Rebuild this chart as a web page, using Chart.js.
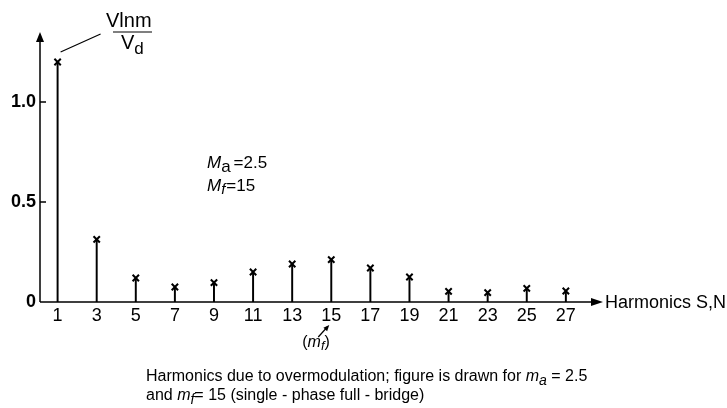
<!DOCTYPE html>
<html>
<head>
<meta charset="utf-8">
<script src="https://cdn.jsdelivr.net/npm/chart.js@4/dist/chart.umd.min.js"></script>
<style>
  html, body { margin: 0; padding: 0; background: #fff; }
  #wrap { position: relative; width: 727px; height: 408px; }
</style>
</head>
<body>
<div id="wrap"><canvas id="harmChart"></canvas></div>
<script>
// harmonic order (x) and normalised amplitude Vlnm/Vd (y)
const harmonics = [1, 3, 5, 7, 9, 11, 13, 15, 17, 19, 21, 23, 25, 27];
const amplitudes = [1.2, 0.313, 0.12, 0.075, 0.097, 0.15, 0.19, 0.212, 0.17, 0.125, 0.053, 0.047, 0.068, 0.055];
const yTickValues = [0, 0.5, 1.0];
const yTickLabels = ["0", "0.5", "1.0"];
const xAxisTitle = "Harmonics S,N";
const mfHarmonic = 15;

const FONT = '"Liberation Sans", Arial, Helvetica, sans-serif';
const points = harmonics.map((h, i) => ({ x: h, y: amplitudes[i] }));

// draw a run of text pieces, each with its own font / baseline shift
function drawRun(ctx, x, y, parts) {
  let cx = x;
  parts.forEach((p) => {
    ctx.font = p.font;
    ctx.fillText(p.t, cx, y + (p.dy || 0));
    cx += ctx.measureText(p.t).width + (p.gap || 0);
  });
  return cx;
}

function arrowHead(ctx, x, y, angle, len, half) {
  ctx.save();
  ctx.translate(x, y);
  ctx.rotate(angle);
  ctx.beginPath();
  ctx.moveTo(0, 0);
  ctx.lineTo(-len, -half);
  ctx.lineTo(-len, half);
  ctx.closePath();
  ctx.fill();
  ctx.restore();
}

const decorations = {
  id: "decorations",
  afterDraw(chart) {
    const ctx = chart.ctx;
    const xs = chart.scales.x, ys = chart.scales.y;
    const area = chart.chartArea;
    const x0 = area.left, y0 = ys.getPixelForValue(0);
    ctx.save();
    ctx.strokeStyle = "#000";
    ctx.fillStyle = "#000";
    ctx.lineWidth = 1.5;

    // axes with arrows
    ctx.beginPath();
    ctx.moveTo(x0, y0);
    ctx.lineTo(x0, area.top + 6);
    ctx.moveTo(x0, y0);
    ctx.lineTo(area.right - 6, y0);
    ctx.stroke();
    arrowHead(ctx, x0, area.top, -Math.PI / 2, 10, 4);
    arrowHead(ctx, area.right, y0, 0, 12, 4);

    // inner tick marks on y axis
    ctx.beginPath();
    yTickValues.slice(1).forEach((v) => {
      const py = ys.getPixelForValue(v);
      ctx.moveTo(x0, py);
      ctx.lineTo(x0 + 6, py);
    });
    ctx.stroke();

    // x axis title
    ctx.textBaseline = "middle";
    ctx.textAlign = "left";
    ctx.font = "18px " + FONT;
    ctx.fillText(xAxisTitle, area.right + 2, y0 + 1);

    // y label as fraction, with leader to first point
    ctx.textBaseline = "alphabetic";
    const p1x = xs.getPixelForValue(harmonics[0]);
    const p1y = ys.getPixelForValue(amplitudes[0]);
    ctx.lineWidth = 1.2;
    ctx.beginPath();
    ctx.moveTo(p1x + 3, p1y - 10);
    ctx.lineTo(p1x + 43, p1y - 28);
    ctx.moveTo(113, 32);
    ctx.lineTo(152, 32);
    ctx.stroke();
    ctx.font = "20px " + FONT;
    ctx.fillText("Vlnm", 106, 27);
    drawRun(ctx, 121, 49, [
      { t: "V", font: "20px " + FONT },
      { t: "d", font: "17px " + FONT, dy: 5 }
    ]);

    // modulation parameters
    drawRun(ctx, 207, 168, [
      { t: "M", font: "italic 17px " + FONT },
      { t: "a", font: "17px " + FONT, dy: 4, gap: 3 },
      { t: "=2.5", font: "17px " + FONT }
    ]);
    drawRun(ctx, 207, 191, [
      { t: "M", font: "italic 17px " + FONT },
      { t: "f", font: "italic 15px " + FONT, dy: 3, gap: 1 },
      { t: "=15", font: "17px " + FONT }
    ]);

    // (m_f) marker under harmonic 15
    const mx = xs.getPixelForValue(mfHarmonic);
    ctx.lineWidth = 1.2;
    ctx.beginPath();
    ctx.moveTo(mx - 13, y0 + 35);
    ctx.lineTo(mx - 4, y0 + 25);
    ctx.stroke();
    arrowHead(ctx, mx - 2, y0 + 23, Math.atan2(-10, 9), 6, 2.5);
    drawRun(ctx, mx - 29, y0 + 45, [
      { t: "(", font: "16px " + FONT },
      { t: "m", font: "italic 16px " + FONT },
      { t: "f", font: "italic 13px " + FONT, dy: 3 },
      { t: ")", font: "16px " + FONT }
    ]);

    // caption
    const cap = "16px " + FONT, capI = "italic 16px " + FONT;
    drawRun(ctx, 146, 381, [
      { t: "Harmonics due to overmodulation; figure is drawn for ", font: cap },
      { t: "m", font: capI },
      { t: "a", font: "italic 14px " + FONT, dy: 4 },
      { t: " = 2.5", font: cap }
    ]);
    drawRun(ctx, 146, 400, [
      { t: "and ", font: cap },
      { t: "m", font: capI },
      { t: "f", font: "italic 14px " + FONT, dy: 4 },
      { t: "= 15 (single - phase full - bridge)", font: cap }
    ]);
    ctx.restore();
  }
};

new Chart(document.getElementById("harmChart"), {
  type: "bar",
  data: {
    datasets: [
      {
        type: "scatter",
        data: points,
        pointStyle: "crossRot",
        pointRadius: 4.5,
        borderWidth: 2,
        borderColor: "#000",
        backgroundColor: "#000",
        order: 0
      },
      {
        type: "bar",
        data: points,
        backgroundColor: "#000",
        barThickness: 1.3,
        order: 1
      }
    ]
  },
  options: {
    responsive: true,
    maintainAspectRatio: false,
    animation: false,
    layout: { padding: { top: 32, right: 124, left: 0, bottom: 0 } },
    plugins: { legend: { display: false }, tooltip: { enabled: false } },
    scales: {
      x: {
        type: "linear",
        min: 0.1,
        max: 28.9,
        offset: false,
        grid: { display: false, drawTicks: false, offset: false },
        border: { display: false },
        afterBuildTicks: (scale) => {
          scale.ticks = harmonics.map((v) => ({ value: v }));
        },
        afterFit: (scale) => { scale.height = 106; },
        ticks: {
          padding: 3,
          color: "#000",
          font: { family: FONT, size: 18 },
          callback: (v) => String(v)
        }
      },
      y: {
        min: 0,
        max: 1.35,
        grid: { display: false, drawTicks: false },
        border: { display: false },
        afterBuildTicks: (scale) => {
          scale.ticks = yTickValues.map((v) => ({ value: v }));
        },
        afterFit: (scale) => { scale.width = 40; },
        ticks: {
          padding: 4,
          color: "#000",
          font: { family: FONT, size: 18, weight: "bold" },
          callback: (v) => yTickLabels[yTickValues.indexOf(v)]
        }
      }
    }
  },
  plugins: [decorations]
});
</script>
</body>
</html>
